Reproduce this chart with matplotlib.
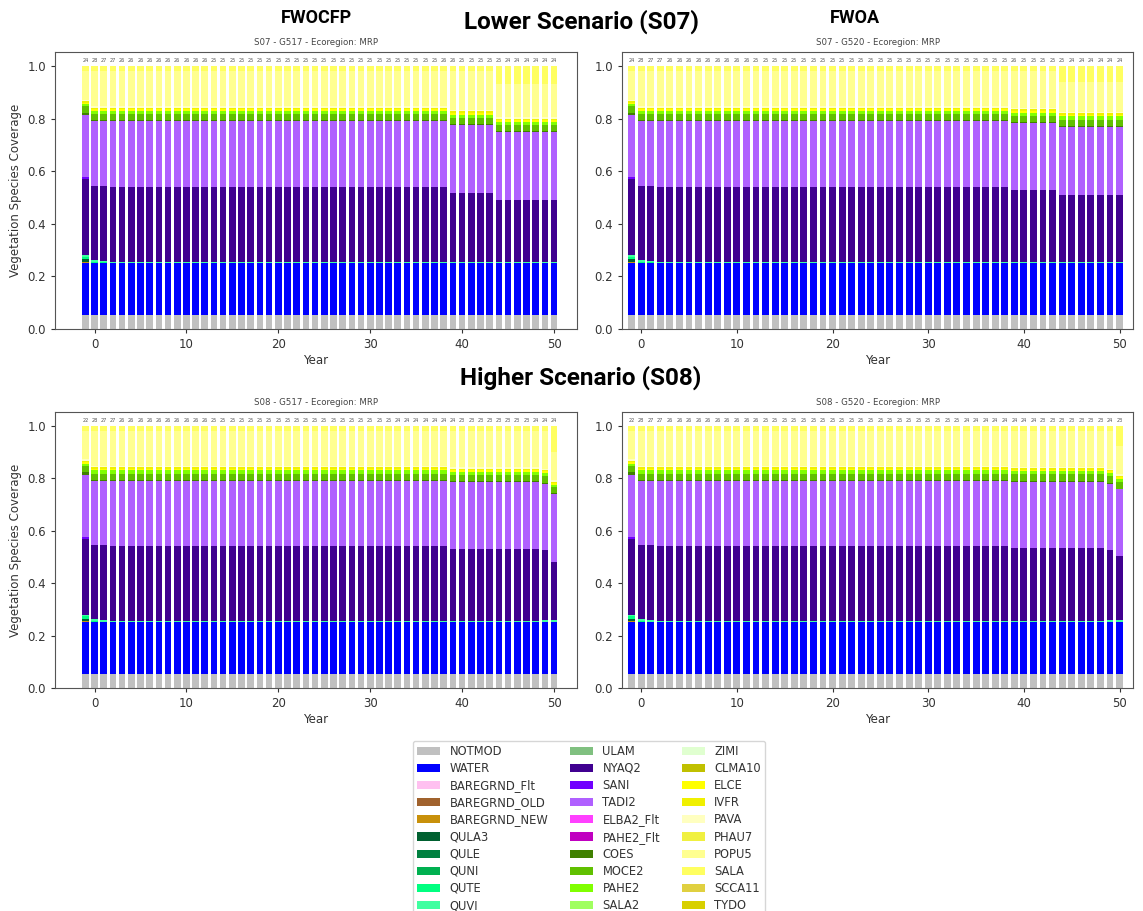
import numpy as np
import matplotlib.pyplot as plt
from matplotlib.patches import Patch

# ---------------- DATA ---------------- #
years = np.arange(-1, 51)

species = ["NOTMOD", "WATER", "BAREGRND_Flt", "BAREGRND_OLD", "BAREGRND_NEW",
           "QULA3", "QULE", "QUNI", "QUTE", "QUVI",
           "ULAM", "NYAQ2", "SANI", "TADI2", "ELBA2_Flt",
           "PAHE2_Flt", "COES", "MOCE2", "PAHE2", "SALA2",
           "ZIMI", "CLMA10", "ELCE", "IVFR", "PAVA",
           "PHAU7", "POPU5", "SALA", "SCCA11", "TYDO"]
colors = ["#c0c0c0", "#0000ff", "#ffc0f0", "#a0622d", "#c8900a",
          "#006030", "#008040", "#00b050", "#00ff80", "#40ffa0",
          "#80c080", "#400090", "#7000ff", "#b060ff", "#ff40ff",
          "#c000c0", "#408000", "#60c000", "#80ff00", "#a0ff60",
          "#e0ffd0", "#c0c000", "#ffff00", "#f0f000", "#ffffc0",
          "#f0f040", "#ffff90", "#ffff60", "#e0d040", "#d8d000"]

# bars per run: year -1, 0, 1, 2-38, 39-43, 44-50
runs_s07 = [1, 1, 1, 37, 5, 7]
# bars per run: year -1, 0, 1, 2-38, 39-48, 49, 50
runs_s08 = [1, 1, 1, 37, 10, 1, 1]

s07_g517 = {
    "NOTMOD": [0.055, 0.055, 0.055, 0.055, 0.055, 0.055],
    "WATER": [0.195, 0.195, 0.195, 0.195, 0.195, 0.195],
    "BAREGRND_NEW": [0.005, 0, 0, 0, 0, 0],
    "QULA3": [0.010, 0, 0, 0, 0, 0],
    "QUTE": [0.010, 0.006, 0.003, 0, 0, 0],
    "QUVI": [0.005, 0.006, 0.005, 0.005, 0.005, 0.005],
    "NYAQ2": [0.290, 0.283, 0.287, 0.285, 0.263, 0.235],
    "SANI": [0.008, 0, 0, 0, 0, 0],
    "TADI2": [0.235, 0.245, 0.245, 0.250, 0.257, 0.258],
    "COES": [0.010, 0.003, 0.003, 0.003, 0.003, 0.003],
    "MOCE2": [0.025, 0.025, 0.025, 0.025, 0.025, 0.025],
    "PAHE2": [0.007, 0.012, 0.012, 0.012, 0.012, 0.012],
    "ELCE": [0.006, 0.006, 0.006, 0.006, 0.006, 0.006],
    "IVFR": [0.006, 0.006, 0.006, 0.006, 0.006, 0.006],
    "PAVA": [0.005, 0.005, 0.005, 0.005, 0.005, 0.005],
    "POPU5": [0.108, 0.133, 0.133, 0.133, 0.148, 0.125],
    "SALA": [0.020, 0.020, 0.020, 0.020, 0.020, 0.070],
}
s07_g520 = {
    "NOTMOD": [0.055, 0.055, 0.055, 0.055, 0.055, 0.055],
    "WATER": [0.195, 0.195, 0.195, 0.195, 0.195, 0.195],
    "BAREGRND_NEW": [0.005, 0, 0, 0, 0, 0],
    "QULA3": [0.010, 0, 0, 0, 0, 0],
    "QUTE": [0.010, 0.006, 0.003, 0, 0, 0],
    "QUVI": [0.005, 0.006, 0.005, 0.005, 0.005, 0.005],
    "NYAQ2": [0.290, 0.283, 0.287, 0.285, 0.273, 0.253],
    "SANI": [0.008, 0, 0, 0, 0, 0],
    "TADI2": [0.235, 0.245, 0.245, 0.250, 0.255, 0.260],
    "COES": [0.010, 0.003, 0.003, 0.003, 0.003, 0.003],
    "MOCE2": [0.025, 0.025, 0.025, 0.025, 0.025, 0.025],
    "PAHE2": [0.007, 0.012, 0.012, 0.012, 0.012, 0.012],
    "ELCE": [0.006, 0.006, 0.006, 0.006, 0.006, 0.006],
    "IVFR": [0.006, 0.006, 0.006, 0.006, 0.006, 0.006],
    "PAVA": [0.005, 0.005, 0.005, 0.005, 0.005, 0.005],
    "POPU5": [0.108, 0.133, 0.133, 0.133, 0.140, 0.115],
    "SALA": [0.020, 0.020, 0.020, 0.020, 0.020, 0.060],
}
s08_g517 = {
    "NOTMOD": [0.055, 0.055, 0.055, 0.055, 0.055, 0.055, 0.055],
    "WATER": [0.195, 0.195, 0.195, 0.195, 0.197, 0.198, 0.198],
    "BAREGRND_NEW": [0.005, 0, 0, 0, 0, 0, 0],
    "QULA3": [0.010, 0, 0, 0, 0, 0, 0],
    "QUTE": [0.010, 0.006, 0.003, 0, 0, 0, 0],
    "QUVI": [0.005, 0.006, 0.005, 0.005, 0.005, 0.005, 0.005],
    "NYAQ2": [0.290, 0.283, 0.287, 0.285, 0.275, 0.267, 0.224],
    "SANI": [0.008, 0, 0, 0, 0, 0, 0],
    "TADI2": [0.235, 0.245, 0.245, 0.250, 0.253, 0.255, 0.258],
    "COES": [0.010, 0.003, 0.003, 0.003, 0.003, 0.003, 0.003],
    "MOCE2": [0.025, 0.025, 0.025, 0.025, 0.025, 0.025, 0.022],
    "PAHE2": [0.007, 0.012, 0.012, 0.012, 0.012, 0.012, 0.010],
    "ELCE": [0.006, 0.006, 0.006, 0.006, 0.006, 0.006, 0.006],
    "IVFR": [0.006, 0.006, 0.006, 0.006, 0.006, 0.006, 0.006],
    "PAVA": [0.005, 0.005, 0.005, 0.005, 0.005, 0.005, 0.005],
    "POPU5": [0.108, 0.133, 0.133, 0.133, 0.138, 0.143, 0.108],
    "SALA": [0.020, 0.020, 0.020, 0.020, 0.020, 0.020, 0.100],
}
s08_g520 = {
    "NOTMOD": [0.055, 0.055, 0.055, 0.055, 0.055, 0.055, 0.055],
    "WATER": [0.195, 0.195, 0.195, 0.195, 0.197, 0.198, 0.198],
    "BAREGRND_NEW": [0.005, 0, 0, 0, 0, 0, 0],
    "QULA3": [0.010, 0, 0, 0, 0, 0, 0],
    "QUTE": [0.010, 0.006, 0.003, 0, 0, 0, 0],
    "QUVI": [0.005, 0.006, 0.005, 0.005, 0.005, 0.005, 0.005],
    "NYAQ2": [0.290, 0.283, 0.287, 0.285, 0.278, 0.267, 0.247],
    "SANI": [0.008, 0, 0, 0, 0, 0, 0],
    "TADI2": [0.235, 0.245, 0.245, 0.250, 0.252, 0.255, 0.253],
    "COES": [0.010, 0.003, 0.003, 0.003, 0.003, 0.003, 0.003],
    "MOCE2": [0.025, 0.025, 0.025, 0.025, 0.025, 0.025, 0.025],
    "PAHE2": [0.007, 0.012, 0.012, 0.012, 0.012, 0.012, 0.012],
    "ELCE": [0.006, 0.006, 0.006, 0.006, 0.006, 0.006, 0.006],
    "IVFR": [0.006, 0.006, 0.006, 0.006, 0.006, 0.006, 0.006],
    "PAVA": [0.005, 0.005, 0.005, 0.005, 0.005, 0.005, 0.005],
    "POPU5": [0.108, 0.133, 0.133, 0.133, 0.136, 0.143, 0.108],
    "SALA": [0.020, 0.020, 0.020, 0.020, 0.020, 0.020, 0.077],
}

# number of species per year, printed above each bar
counts_s07_g517 = [24, 28, 27, 27] + [26] * 10 + [25] * 25 + [26] * 2 + [25] * 5 + [24] * 6
counts_s07_g520 = [24, 28, 27, 27] + [26] * 9 + [25] * 27 + [26] + [25] * 5 + [24] * 6
counts_s08_g517 = [22, 28, 27, 27] + [26] * 10 + [25] * 20 + [24] * 7 + [23] * 8 + [24] * 3
counts_s08_g520 = [22, 28, 27, 27] + [26] * 10 + [25] * 21 + [24] * 8 + [23] * 7 + [24, 23]

# ---------------- PLOT ---------------- #
W, H = 1143, 911
fig = plt.figure(figsize=(W / 100, H / 100), dpi=100)

TITLE_FONT = ["Liberation Sans Narrow", "Roboto", "DejaVu Sans"]


def px_axes(left, top, right, bottom):
    return fig.add_axes([left / W, 1 - bottom / H, (right - left) / W, (bottom - top) / H])


def draw_panel(ax, data, runs, counts, subtitle, xlim, ylabel):
    bottom = np.zeros(len(years))
    for name, col in zip(species, colors):
        if name not in data:
            continue
        vals = np.repeat(data[name], runs)
        ax.bar(years, vals, bottom=bottom, width=0.72, color=col, edgecolor="none")
        bottom += vals
    for x, c in zip(years, counts):
        ax.text(x, 1.012, str(c), ha="center", va="bottom", fontsize=3.6, color="#555555")
    ax.set_xlim(*xlim)
    ax.set_ylim(0, 1.053)
    ax.set_xticks([0, 10, 20, 30, 40, 50])
    ax.set_yticks([0.0, 0.2, 0.4, 0.6, 0.8, 1.0])
    ax.tick_params(labelsize=8.5, colors="#333333", length=3)
    for s in ax.spines.values():
        s.set_color("#555555")
    ax.set_xlabel("Year", fontsize=8.5, color="#333333", labelpad=2)
    if ylabel:
        ax.set_ylabel("Vegetation Species Coverage", fontsize=8.5, color="#333333")
    ax.set_title(subtitle, fontsize=6.2, color="#444444", pad=5)


ax1 = px_axes(55, 52, 577, 329)
ax2 = px_axes(622, 52, 1133, 329)
ax3 = px_axes(55, 412, 577, 688)
ax4 = px_axes(622, 412, 1133, 688)

xl_left = (-4.3, 52.5)
xl_right = (-2.0, 51.4)
draw_panel(ax1, s07_g517, runs_s07, counts_s07_g517, "S07 - G517 - Ecoregion: MRP", xl_left, True)
draw_panel(ax2, s07_g520, runs_s07, counts_s07_g520, "S07 - G520 - Ecoregion: MRP", xl_right, False)
draw_panel(ax3, s08_g517, runs_s08, counts_s08_g517, "S08 - G517 - Ecoregion: MRP", xl_left, True)
draw_panel(ax4, s08_g520, runs_s08, counts_s08_g520, "S08 - G520 - Ecoregion: MRP", xl_right, False)

fig.text(316 / W, 1 - 18 / H, "FWOCFP", ha="center", va="center", fontsize=13,
         fontweight="bold", family=TITLE_FONT)
fig.text(855 / W, 1 - 18 / H, "FWOA", ha="center", va="center", fontsize=13,
         fontweight="bold", family=TITLE_FONT)
fig.text(581 / W, 1 - 22 / H, "Lower Scenario (S07)", ha="center", va="center", fontsize=17.5,
         fontweight="bold", family=TITLE_FONT)
fig.text(581 / W, 1 - 378 / H, "Higher Scenario (S08)", ha="center", va="center", fontsize=17.5,
         fontweight="bold", family=TITLE_FONT)

handles = [Patch(facecolor=c, edgecolor="none", label=n) for n, c in zip(species, colors)]
fig.legend(handles=handles, loc="upper center", bbox_to_anchor=(589 / W, 1 - 735 / H),
           ncol=3, fontsize=8.3, frameon=True, edgecolor="#cccccc",
           labelspacing=0.36, columnspacing=1.9, handlelength=2.0, handletextpad=0.8,
           borderpad=0.35, labelcolor="#333333")

fig.savefig("out.png", dpi=100)
